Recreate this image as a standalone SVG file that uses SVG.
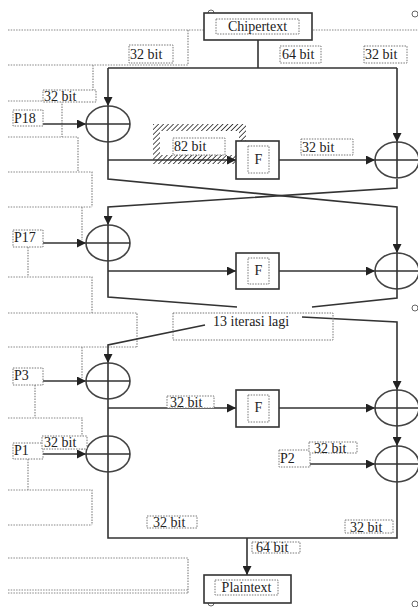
<svg xmlns="http://www.w3.org/2000/svg" width="418" height="607" viewBox="0 0 418 607">
<defs>
<style>
.ln{stroke:#333;stroke-width:1.6;fill:none}
.dot{stroke:#888;stroke-width:1.2;stroke-dasharray:1.5 1.2;fill:none}
.lb{stroke:#777;stroke-width:1;stroke-dasharray:1.5 1.2;fill:#fff}
.lbn{stroke:#777;stroke-width:1;stroke-dasharray:1.5 1.2;fill:none}
.box{stroke:#333;stroke-width:1.6;fill:#fff}
.xor{stroke:#444;stroke-width:1.6;fill:#fff}
.t{font-family:"Liberation Serif",serif;font-size:14px;fill:#222}
.sc{stroke:#666;stroke-width:1;fill:#fff}
</style>
<marker id="ah" viewBox="0 0 10 10" refX="10" refY="5" markerWidth="9" markerHeight="9" markerUnits="userSpaceOnUse" orient="auto">
<path d="M0,0 L10,5 L0,10 z" fill="#222"/>
</marker>
<pattern id="hatch" patternUnits="userSpaceOnUse" width="3.5" height="3.5" patternTransform="rotate(45)">
<rect width="3.5" height="3.5" fill="#fff"/>
<line x1="0" y1="0" x2="0" y2="3.5" stroke="#333" stroke-width="1.7"/>
</pattern>
</defs>
<rect width="418" height="607" fill="#fff"/>

<g id="background-frames">
<path class="dot" d="M8,30 H418 M188,30 V65 M8,65 H188 M93,65 V90 M8,101 H43 M62,101 V137 M8,137 H78 V172 M8,172 H92 V207 M8,207 H92 M82,207 V240 M28,247 V277 M8,277 H92 V313 M8,313 H137 V347 M8,347 H137 M82,347 V378 M35,385 V418 M8,418 H82 V450 M28,459 V490 M8,490 H92 V525 M8,525 H92 M8,558 H188 V593 M8,590 H188 M8,593 H188"/>
<circle class="sc" cx="211" cy="13" r="3"/>
<circle class="sc" cx="415" cy="14" r="3"/>
<circle class="sc" cx="415" cy="308" r="3"/>
<circle class="sc" cx="211" cy="603" r="3"/>
<circle class="sc" cx="415" cy="604" r="3"/>
</g>

<g id="hatched-frame">
<path fill="url(#hatch)" fill-rule="evenodd" d="M153,124 H246 V164 H153 Z M160,131 V155 H239 V131 Z"/>
</g>

<g id="connectors">
<path class="ln" d="M258,40 V68 M108,68 H397"/>
<path class="ln" d="M108,68 V106" marker-end="url(#ah)"/>
<path class="ln" d="M397,68 V142" marker-end="url(#ah)"/>
<path class="ln" d="M43,124 H86" marker-end="url(#ah)"/>
<path class="ln" d="M108,160 H236" marker-end="url(#ah)"/>
<path class="ln" d="M279,160 H375" marker-end="url(#ah)"/>
<path class="ln" d="M108,142 V179 L397,207 V253" marker-end="url(#ah)"/>
<path class="ln" d="M397,179 V188 L108,207 V225" marker-end="url(#ah)"/>
<path class="ln" d="M43,243 H86" marker-end="url(#ah)"/>
<path class="ln" d="M108,271 H236" marker-end="url(#ah)"/>
<path class="ln" d="M279,271 H375" marker-end="url(#ah)"/>
<path class="ln" d="M108,261 V297 L237,307"/>
<path class="ln" d="M397,289 V298 L312,307"/>
<path class="ln" d="M205,325 L108,345 V363" marker-end="url(#ah)"/>
<path class="ln" d="M302,317 L397,322 V390" marker-end="url(#ah)"/>
<path class="ln" d="M43,381 H86" marker-end="url(#ah)"/>
<path class="ln" d="M108,408 H236" marker-end="url(#ah)"/>
<path class="ln" d="M279,408 H375" marker-end="url(#ah)"/>
<path class="ln" d="M108,399 V436"/>
<path class="ln" d="M43,454 H86" marker-end="url(#ah)"/>
<path class="ln" d="M397,426 V446" marker-end="url(#ah)"/>
<path class="ln" d="M310,464 H375" marker-end="url(#ah)"/>
<path class="ln" d="M108,472 V538 H397 V482"/>
<path class="ln" d="M247,538 V575" marker-end="url(#ah)"/>
</g>

<g id="chipertext">
<rect class="box" x="204" y="13" width="108" height="27"/>
<rect class="lb" x="216" y="19" width="83" height="15"/>
<text class="t" x="257.5" y="31" text-anchor="middle">Chipertext</text>
</g>
<g id="plaintext">
<rect class="box" x="204" y="575" width="87" height="28"/>
<rect class="lb" x="215" y="580" width="63" height="15"/>
<text class="t" x="246.5" y="592" text-anchor="middle">Plaintext</text>
</g>

<g id="xor-l1"><ellipse class="xor" cx="108" cy="124" rx="22" ry="18"/><path class="ln" d="M86,124 H130 M108,106 V142"/></g>
<g id="xor-r1"><ellipse class="xor" cx="397" cy="160" rx="22" ry="18"/><path class="ln" d="M375,160 H419 M397,142 V178"/></g>
<g id="xor-l2"><ellipse class="xor" cx="108" cy="243" rx="22" ry="18"/><path class="ln" d="M86,243 H130 M108,225 V261"/></g>
<g id="xor-r2"><ellipse class="xor" cx="397" cy="271" rx="22" ry="18"/><path class="ln" d="M375,271 H419 M397,253 V289"/></g>
<g id="xor-l3"><ellipse class="xor" cx="108" cy="381" rx="22" ry="18"/><path class="ln" d="M86,381 H130 M108,363 V399"/></g>
<g id="xor-r3"><ellipse class="xor" cx="397" cy="408" rx="22" ry="18"/><path class="ln" d="M375,408 H419 M397,390 V426"/></g>
<g id="xor-l4"><ellipse class="xor" cx="108" cy="454" rx="22" ry="18"/><path class="ln" d="M86,454 H130 M108,436 V472"/></g>
<g id="xor-r4"><ellipse class="xor" cx="397" cy="464" rx="22" ry="18"/><path class="ln" d="M375,464 H419 M397,446 V482"/></g>

<g id="f1"><rect class="box" x="236" y="141" width="43" height="38"/><rect class="lb" x="248" y="146" width="21" height="27"/><text class="t" x="258.5" y="164" text-anchor="middle">F</text></g>
<g id="f2"><rect class="box" x="236" y="253" width="43" height="36"/><rect class="lb" x="248" y="258" width="21" height="26"/><text class="t" x="258.5" y="275" text-anchor="middle">F</text></g>
<g id="f3"><rect class="box" x="236" y="390" width="43" height="37"/><rect class="lb" x="248" y="395" width="21" height="27"/><text class="t" x="258.5" y="412" text-anchor="middle">F</text></g>

<g id="p18"><rect class="lb" x="13" y="110" width="30" height="16"/><text class="t" x="14" y="123">P18</text></g>
<g id="p17"><rect class="lb" x="13" y="230" width="30" height="17"/><text class="t" x="14" y="242">P17</text></g>
<g id="p3"><rect class="lb" x="13" y="368" width="30" height="17"/><text class="t" x="14" y="380">P3</text></g>
<g id="p1"><rect class="lb" x="13" y="443" width="30" height="16"/><text class="t" x="14" y="455">P1</text></g>
<g id="p2"><rect class="lb" x="279" y="450" width="31" height="17"/><text class="t" x="280" y="463">P2</text></g>

<g id="labels">
<rect class="lb" x="129" y="45" width="44" height="18"/><text class="t" x="130" y="59">32 bit</text>
<rect class="lb" x="280" y="46" width="41" height="17"/><text class="t" x="282" y="59">64 bit</text>
<rect class="lb" x="364" y="46" width="43" height="17"/><text class="t" x="365" y="59">32 bit</text>
<rect class="lb" x="43" y="90" width="53" height="12"/><text class="t" x="44" y="101">32 bit</text>
<rect class="lb" x="173" y="138" width="52" height="17"/><text class="t" x="174" y="151">82 bit</text>
<rect class="lb" x="301" y="139" width="52" height="16"/><text class="t" x="302" y="152">32 bit</text>
<rect class="lbn" x="173" y="313" width="160" height="27"/><text class="t" x="213" y="326">13 iterasi lagi</text>
<rect class="lb" x="167" y="396" width="47" height="12"/><text class="t" x="170" y="407">32 bit</text>
<rect class="lb" x="42" y="436" width="45" height="13"/><text class="t" x="44" y="447">32 bit</text>
<rect class="lb" x="309" y="442" width="48" height="11"/><text class="t" x="314" y="453">32 bit</text>
<rect class="lb" x="147" y="516" width="50" height="12"/><text class="t" x="153" y="527">32 bit</text>
<rect class="lb" x="345" y="520" width="48" height="13"/><text class="t" x="350" y="532">32 bit</text>
<rect class="lb" x="252" y="542" width="48" height="11"/><text class="t" x="256" y="552">64 bit</text>
</g>
</svg>
